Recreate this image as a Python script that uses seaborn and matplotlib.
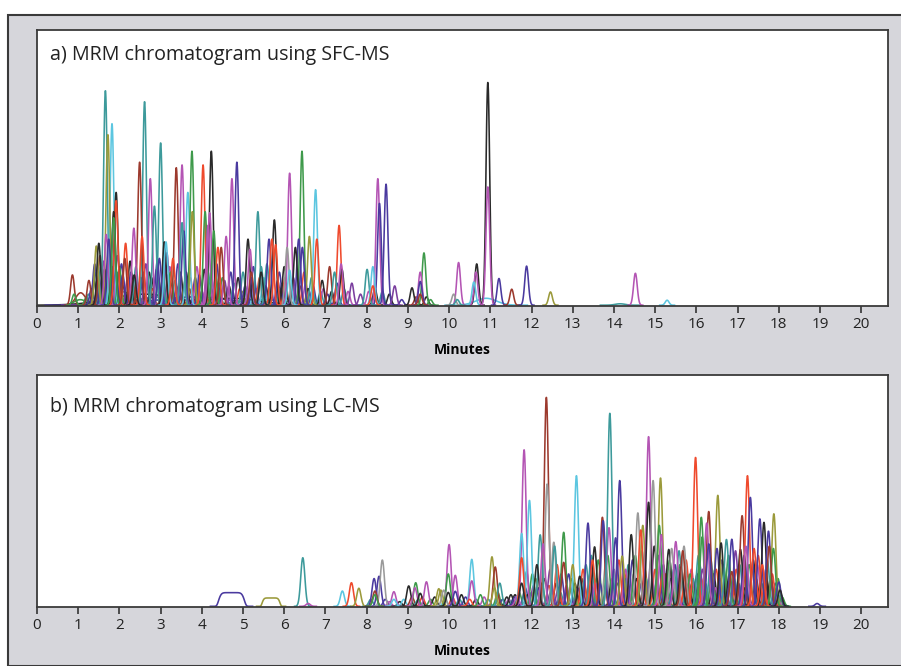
import numpy as np
import pandas as pd
import matplotlib
matplotlib.use('Agg')
import matplotlib.pyplot as plt
import seaborn as sns
from matplotlib.patches import Rectangle

# trace colours
colors = {
    'k': '#2a2a2a', 'teal': '#3d9a9b', 'cyan': '#5cc6e0', 'olive': '#9b9a3b',
    'brown': '#9c3a2e', 'pink': '#b455b4', 'purple': '#7b3f9f', 'navy': '#4a3a9f',
    'green': '#3f9a4b', 'red': '#ef4a2d', 'grey': '#9a9a9a',
}

# ---- panel a: SFC-MS peaks (apex time [min], height [% of axis], colour)
a_time = [1.66, 1.82, 1.72, 2.61, 3.00, 2.49, 2.75, 2.85, 3.38, 3.52, 3.66, 3.76, 3.77, 4.03, 4.23,
          4.08, 4.73, 4.85, 5.36, 5.76, 5.12, 6.13, 6.43, 6.76, 6.61, 6.79, 6.35, 6.44, 6.27, 6.07,
          7.33, 7.10, 7.40, 7.64, 8.27, 8.47, 8.31, 8.01, 8.15, 8.68, 9.10, 9.39, 9.30, 9.30,
          10.23, 10.11, 10.20, 10.67, 10.65, 10.60, 10.94, 10.94, 11.21, 11.52, 11.88, 12.46, 14.52, 15.29,
          0.86, 1.26, 0.90,
          1.44, 1.50, 1.68, 1.74, 1.92, 1.92, 1.86, 1.86, 2.15, 2.35, 2.55, 2.13, 2.36, 3.09, 2.97, 3.13,
          3.56, 3.52, 3.30, 4.15, 4.19, 4.29, 4.39, 4.59, 4.47, 5.63, 5.70, 5.79, 6.13, 5.17, 5.44, 5.44,
          5.20, 5.20, 7.22, 7.38, 8.15, 9.30]
a_height = [78, 66, 62, 74, 59, 52, 46, 36, 50, 51, 41, 56, 34, 51, 56,
            34, 46, 52, 34, 31, 24, 48, 56, 42, 25, 24, 24, 21, 21, 21,
            29, 14, 13, 8, 46, 44, 37, 13, 14, 7, 6.3, 19, 12, 8.6,
            15.5, 4, 2, 15, 12, 8.4, 81, 43, 9.7, 5.8, 14.2, 4.8, 11.6, 1.8,
            11, 9, 4,
            21.5, 22.5, 25.7, 24, 41, 38, 34, 31.8, 22.5, 28, 25, 17, 11, 23, 17, 23,
            27, 30, 17, 29, 33.6, 27, 21, 25, 21, 24, 24, 22, 12.7, 20.3, 14, 12,
            10, 12, 12, 15, 7, 4]
a_color = ['teal', 'cyan', 'olive', 'teal', 'teal', 'brown', 'pink', 'teal', 'brown', 'pink', 'cyan', 'green', 'olive', 'red', 'k',
           'green', 'pink', 'navy', 'teal', 'k', 'k', 'pink', 'green', 'cyan', 'olive', 'red', 'navy', 'navy', 'k', 'grey',
           'red', 'brown', 'k', 'purple', 'pink', 'navy', 'navy', 'teal', 'cyan', 'purple', 'k', 'green', 'pink', 'navy',
           'pink', 'grey', 'teal', 'k', 'pink', 'cyan', 'k', 'pink', 'navy', 'brown', 'navy', 'olive', 'pink', 'cyan',
           'brown', 'brown', 'green',
           'olive', 'k', 'pink', 'navy', 'k', 'red', 'k', 'green', 'red', 'pink', 'red', 'brown', 'k', 'k', 'navy', 'cyan',
           'navy', 'teal', 'red', 'pink', 'pink', 'green', 'red', 'pink', 'brown', 'navy', 'red', 'red', 'cyan', 'pink', 'teal', 'k',
           'navy', 'brown', 'teal', 'pink', 'red', 'brown']

# small peaks crowding the baseline of panel a
a_minor_time = [1.20, 1.25, 1.32, 1.38, 1.42, 1.48, 1.55, 1.58, 1.62, 1.70, 1.76, 1.80, 1.84, 1.97, 2.02, 2.05,
                2.10, 2.20, 2.24, 2.28, 2.42, 2.45, 2.52, 2.68, 2.72, 2.80, 2.90, 2.95, 3.04, 3.18, 3.22, 3.26,
                3.35, 3.44, 3.48, 3.60, 3.70, 3.84, 3.90, 3.96, 4.00, 4.12, 4.28, 4.34, 4.42, 4.52, 4.55, 4.66,
                4.78, 4.92, 4.98, 5.05, 5.28, 5.32, 5.50, 5.55, 5.84, 5.90, 5.95, 6.02, 6.20, 6.38, 6.52, 6.58,
                6.70, 6.88, 6.95, 7.05, 7.15, 7.28, 7.45, 7.55, 7.85, 8.05, 8.20, 8.38, 8.55, 8.85, 9.20, 9.45,
                9.55, 1.40, 1.53, 1.64, 1.78, 1.95, 2.00, 2.08, 2.26, 2.32, 2.40, 2.58, 2.64, 2.78, 2.92, 3.10,
                3.15, 3.24, 3.42, 3.62, 3.72, 3.88, 3.94, 4.06, 4.22, 4.36, 4.50, 4.70, 4.88, 5.00, 5.25, 5.40,
                5.58, 5.88, 6.00, 6.22, 6.48, 6.66, 6.92]
a_minor_height = [3, 4, 6, 9, 12, 8, 14, 10, 16, 12, 18, 9, 14, 12, 8, 15,
                  7, 10, 6, 12, 9, 6, 10, 8, 12, 6, 13, 9, 7, 11, 14, 8,
                  9, 7, 12, 9, 6, 10, 7, 8, 5, 9, 6, 10, 8, 6, 9, 7,
                  8, 6, 5, 7, 8, 6, 10, 7, 9, 6, 8, 10, 9, 7, 8, 6,
                  7, 5, 6, 4, 5, 8, 6, 5, 4, 5, 6, 5, 4, 2, 3, 3,
                  2, 15, 18, 13, 20, 18, 14, 11, 16, 9, 14, 12, 15, 10, 16, 14,
                  19, 12, 15, 12, 10, 14, 11, 13, 12, 15, 10, 12, 10, 12, 14, 10,
                  15, 12, 14, 10, 12, 10, 9]
a_minor_color = ['green', 'teal', 'navy', 'k', 'green', 'pink', 'teal', 'navy', 'purple', 'brown', 'pink', 'green', 'navy', 'teal', 'olive', 'navy',
                 'k', 'purple', 'teal', 'navy', 'pink', 'green', 'k', 'navy', 'k', 'red', 'purple', 'green', 'brown', 'navy', 'pink', 'k',
                 'teal', 'navy', 'k', 'olive', 'brown', 'navy', 'k', 'teal', 'pink', 'navy', 'k', 'brown', 'teal', 'navy', 'purple', 'k',
                 'teal', 'red', 'olive', 'navy', 'cyan', 'pink', 'cyan', 'k', 'purple', 'teal', 'k', 'red', 'teal', 'brown', 'pink', 'k',
                 'navy', 'teal', 'pink', 'navy', 'k', 'navy', 'teal', 'pink', 'purple', 'pink', 'k', 'teal', 'k', 'navy', 'brown', 'k',
                 'green', 'navy', 'brown', 'k', 'teal', 'pink', 'green', 'navy', 'k', 'brown', 'teal', 'navy', 'purple', 'k', 'navy', 'brown',
                 'purple', 'green', 'navy', 'k', 'red', 'pink', 'navy', 'k', 'teal', 'navy', 'green', 'navy', 'k', 'teal', 'navy', 'red',
                 'teal', 'navy', 'k', 'purple', 'red', 'teal', 'k']

# broad, low humps and tails in panel a (centre, height, width, colour)
a_broad_time = [1.06, 1.05, 2.0, 2.6, 3.8, 4.7, 3.0, 5.5, 10.9, 14.15]
a_broad_height = [4.5, 2, 5, 4, 3, 2.5, 3, 2, 2.5, 0.5]
a_broad_width = [0.12, 0.15, 0.4, 0.8, 0.9, 0.7, 0.6, 0.6, 0.25, 0.12]
a_broad_color = ['brown', 'green', 'olive', 'k', 'navy', 'k', 'purple', 'teal', 'cyan', 'teal']

# ---- panel b: LC-MS peaks
b_time = [6.45, 6.58, 7.41, 7.63, 7.81, 8.18, 8.30, 8.38, 8.20, 8.20, 8.66, 8.66, 9.02, 9.19, 9.17,
          9.30, 9.45, 9.75, 10.00, 10.15, 9.98, 9.80, 9.87, 9.98, 10.15, 10.55, 10.55, 10.30, 10.50,
          10.76, 11.04, 11.12, 11.23, 11.10, 11.50, 11.60, 11.60, 11.65,
          11.82, 11.95, 11.76, 11.76, 11.76, 12.36, 12.38, 12.21, 12.13, 12.28, 12.54, 12.56, 12.78,
          12.78, 13.09, 13.00, 13.17, 13.37, 13.53, 13.48, 13.72, 13.74, 13.88, 13.90, 14.04, 14.14,
          14.20, 14.42, 14.58, 14.70, 14.65, 14.84, 14.84, 14.95, 15.13, 15.10, 15.15, 15.33, 15.40,
          15.50, 15.63, 15.70, 15.67, 15.98, 16.12, 16.14, 16.30, 16.25, 16.30, 16.52, 16.50, 16.60,
          16.73, 16.86, 16.86, 17.07, 17.11, 17.24, 17.31, 17.20, 17.40, 17.54, 17.64, 17.75, 17.88,
          17.87, 17.77, 17.60, 18.00, 18.03, 18.93]
b_height = [21, 1.2, 6.6, 10.2, 7.8, 12, 13, 20, 6.6, 5, 6.3, 3, 8.8, 10.2, 8,
            5.6, 10.6, 7.6, 26.7, 13.4, 14, 7, 7, 6, 6.5, 20.3, 11, 5, 3,
            5, 21.4, 17, 10, 8, 5, 5, 4, 4.5,
            67.7, 45.8, 31.5, 21, 10, 90.4, 52.9, 30.9, 18, 27, 27.7, 26, 32,
            19, 56.5, 18, 13, 36, 25.7, 20, 38.5, 37, 34, 83.5, 29.6, 54.4,
            21.7, 31, 40.4, 35, 33, 73.4, 45, 54.4, 55.5, 35, 31, 24.6, 25,
            28, 17, 26, 24, 64.4, 38.5, 30, 41, 36, 27, 48, 25, 27.4,
            28.9, 29, 15, 24.6, 39.2, 56.5, 47.1, 26, 25, 37.8, 36.3, 32.5, 40,
            25, 26, 18, 10.5, 7, 1.2]
b_color = ['teal', 'pink', 'cyan', 'red', 'olive', 'navy', 'navy', 'grey', 'brown', 'green', 'pink', 'cyan', 'k', 'green', 'pink',
           'k', 'pink', 'olive', 'pink', 'pink', 'green', 'olive', 'grey', 'k', 'navy', 'cyan', 'pink', 'k', 'red',
           'green', 'olive', 'brown', 'teal', 'olive', 'k', 'k', 'navy', 'pink',
           'pink', 'cyan', 'cyan', 'red', 'k', 'brown', 'grey', 'teal', 'k', 'pink', 'grey', 'teal', 'green',
           'brown', 'cyan', 'olive', 'k', 'navy', 'k', 'red', 'brown', 'navy', 'pink', 'teal', 'navy', 'navy',
           'olive', 'k', 'grey', 'olive', 'red', 'pink', 'k', 'grey', 'olive', 'green', 'pink', 'k', 'grey',
           'pink', 'k', 'grey', 'brown', 'red', 'green', 'green', 'brown', 'pink', 'navy', 'olive', 'navy', 'k',
           'teal', 'navy', 'brown', 'k', 'brown', 'red', 'navy', 'pink', 'red', 'navy', 'k', 'navy', 'olive',
           'green', 'brown', 'red', 'navy', 'k', 'navy']

# small peaks crowding the baseline of panel b
b_minor_time = [8.10, 8.45, 8.55, 8.80, 8.90, 9.10, 9.25, 9.35, 9.55, 9.65, 9.90, 10.08, 10.25, 10.40, 10.65,
                10.85, 10.95, 11.18,
                11.30, 11.40, 11.45, 11.55, 11.70, 11.85, 11.90, 12.00, 12.05, 12.10, 12.18, 12.25, 12.32,
                12.42, 12.48, 12.60, 12.65, 12.70, 12.85, 12.90, 12.95, 13.05, 13.12, 13.22, 13.28, 13.32,
                13.42, 13.58, 13.62, 13.66, 13.80, 13.95, 14.00, 14.08, 14.25, 14.30, 14.35, 14.48, 14.52,
                14.62, 14.75, 14.78, 14.90, 15.00, 15.05, 15.20, 15.25, 15.28, 15.38, 15.45, 15.55, 15.60,
                15.78, 15.82, 15.88, 15.92, 16.02, 16.08, 16.18, 16.22, 16.38, 16.42, 16.46, 16.58, 16.66,
                16.70, 16.80, 16.92, 16.97, 17.02, 17.14, 17.18, 17.35, 17.45, 17.48, 17.58, 17.68, 17.70,
                17.80, 17.92, 17.95, 18.05, 18.08,
                11.88, 12.02, 12.45, 12.62, 12.72, 12.98, 13.25, 13.45, 13.55, 13.85, 14.12, 14.28, 14.45,
                14.55, 14.68, 14.98, 15.08, 15.18, 15.35, 15.48, 15.58, 15.75, 15.85, 16.05, 16.15, 16.35,
                16.48, 16.62, 16.78, 16.95, 17.05, 17.16, 17.28, 17.38, 17.50, 17.62, 17.72, 17.84, 17.98]
b_minor_height = [3, 3, 2, 2, 3, 4, 3, 4, 3, 4, 3, 4, 3, 4, 3,
                  4, 3, 6,
                  3, 4, 3, 3, 6, 8, 5, 6, 9, 12, 8, 10, 12,
                  9, 7, 10, 8, 6, 9, 14, 7, 10, 8, 12, 9, 18,
                  14, 12, 20, 10, 18, 12, 16, 10, 15, 12, 18, 14, 22,
                  10, 16, 12, 20, 16, 12, 18, 14, 10, 12, 16, 12, 18,
                  14, 10, 16, 12, 14, 18, 12, 10, 16, 14, 8, 12, 18,
                  10, 14, 12, 16, 10, 14, 8, 16, 12, 18, 10, 14, 8,
                  12, 10, 8, 5, 4,
                  15, 14, 16, 18, 14, 12, 16, 22, 10, 22, 20, 16, 20,
                  12, 24, 26, 22, 14, 20, 18, 24, 20, 14, 22, 16, 20,
                  16, 20, 22, 24, 18, 22, 18, 20, 22, 16, 20, 14, 12]
b_minor_color = ['teal', 'navy', 'pink', 'k', 'cyan', 'brown', 'teal', 'red', 'green', 'k', 'cyan', 'red', 'teal', 'navy', 'k',
                 'pink', 'teal', 'green',
                 'navy', 'k', 'pink', 'teal', 'green', 'navy', 'k', 'teal', 'purple', 'olive', 'navy', 'green', 'k',
                 'red', 'navy', 'k', 'purple', 'teal', 'pink', 'navy', 'teal', 'k', 'purple', 'brown', 'green', 'teal',
                 'purple', 'olive', 'green', 'navy', 'grey', 'k', 'pink', 'green', 'red', 'navy', 'teal', 'pink', 'green',
                 'navy', 'brown', 'teal', 'purple', 'red', 'teal', 'navy', 'brown', 'green', 'purple', 'teal', 'red', 'green',
                 'navy', 'k', 'pink', 'teal', 'k', 'navy', 'red', 'teal', 'green', 'k', 'pink', 'red', 'green',
                 'purple', 'k', 'teal', 'red', 'navy', 'green', 'k', 'teal', 'k', 'pink', 'green', 'red', 'teal',
                 'k', 'navy', 'pink', 'teal', 'green',
                 'teal', 'green', 'purple', 'red', 'navy', 'green', 'red', 'teal', 'pink', 'green', 'red', 'pink', 'navy',
                 'k', 'teal', 'k', 'navy', 'red', 'green', 'navy', 'teal', 'red', 'green', 'teal', 'purple', 'teal',
                 'red', 'navy', 'green', 'purple', 'teal', 'navy', 'green', 'k', 'red', 'pink', 'teal', 'red', 'green']

# flat-topped peaks in panel b (centre, height, half width, colour)
b_flat_time = [4.72, 5.68]
b_flat_height = [5.9, 3.6]
b_flat_width = [0.32, 0.22]
b_flat_color = ['navy', 'olive']

titles = ['a) MRM chromatogram using SFC-MS', 'b) MRM chromatogram using LC-MS']


def peak_frame(times, heights, cols, width, prefix, kind='gauss'):
    rows = []
    if np.isscalar(width):
        width = [width] * len(times)
    for i, (t0, h, c, w) in enumerate(zip(times, heights, cols, width)):
        span = 4 * w if kind == 'gauss' else 1.6 * w
        t = np.linspace(t0 - span, t0 + span, 80)
        if kind == 'gauss':
            y = h * np.exp(-0.5 * ((t - t0) / w) ** 2)
        else:
            y = h * np.exp(-((t - t0) / w) ** 8)
        rows.append(pd.DataFrame({'t': t, 'y': y, 'peak': f'{prefix}{i}', 'col': c}))
    return pd.concat(rows, ignore_index=True)


df_a = pd.concat([
    peak_frame(a_broad_time, a_broad_height, a_broad_color, a_broad_width, 'ab'),
    peak_frame(a_minor_time, a_minor_height, a_minor_color, 0.045, 'am'),
    peak_frame(a_time, a_height, a_color, 0.045, 'a'),
], ignore_index=True)
df_b = pd.concat([
    peak_frame(b_flat_time, b_flat_height, b_flat_color, b_flat_width, 'bf', kind='flat'),
    peak_frame(b_minor_time, b_minor_height, b_minor_color, 0.05, 'bm'),
    peak_frame(b_time, b_height, b_color, 0.05, 'b'),
], ignore_index=True)

W, H = 901, 666
fig = plt.figure(figsize=(W / 100, H / 100), dpi=100)
fig.patch.set_facecolor('white')
fig.patches.append(Rectangle((8 / W, 0), 1.0, 1 - 15 / H, transform=fig.transFigure,
                             facecolor='#d6d6db', edgecolor='#3a3a3a', linewidth=1.5, zorder=-10))

ax_a = fig.add_axes([37 / W, 1 - 306 / H, 851 / W, 276 / H])
ax_b = fig.add_axes([37 / W, 1 - 607 / H, 851 / W, 232 / H])

for ax, df, title, ty in [(ax_a, df_a, titles[0], 0.91), (ax_b, df_b, titles[1], 0.86)]:
    pal = dict(zip(df['peak'], df['col'].map(colors)))
    sns.lineplot(data=df, x='t', y='y', hue='peak', palette=pal, estimator=None,
                 sort=False, legend=False, linewidth=1.15, ax=ax)
    ax.set_facecolor('white')
    ax.set_xlim(0, 20.65)
    ax.set_ylim(-0.3, 100)
    ax.set_xticks(range(0, 21))
    ax.set_yticks([])
    ax.set_ylabel('')
    ax.set_xlabel('Minutes', fontsize=10, fontweight='bold', family='Open Sans', labelpad=8)
    ax.tick_params(axis='x', direction='out', length=5, width=1.2, color='#333333',
                   labelsize=11, pad=3)
    for lab in ax.get_xticklabels():
        lab.set_family('Open Sans')
        lab.set_color('#222222')
    for s in ax.spines.values():
        s.set_color('#3a3a3a')
        s.set_linewidth(1.3)
    ax.text(0.015, ty, title, transform=ax.transAxes, ha='left', va='center',
            fontsize=14.2, family='Open Sans', color='#222222')

fig.savefig('out.png', dpi=100)
